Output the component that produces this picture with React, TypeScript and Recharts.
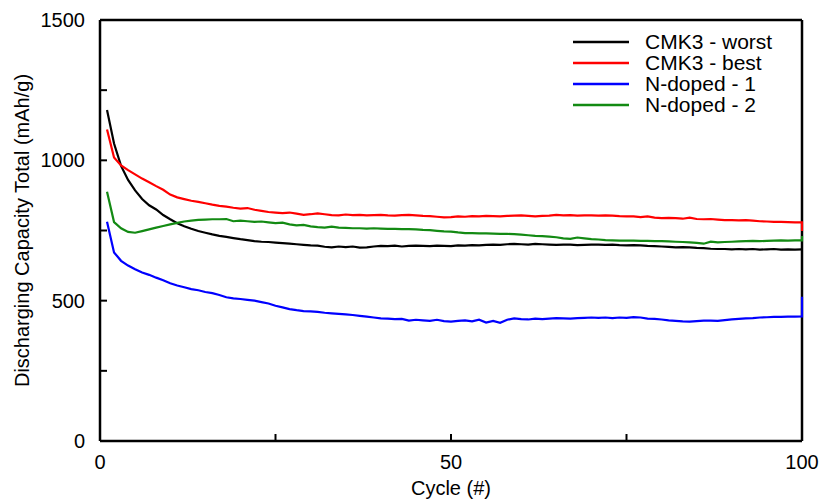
import React from 'react';
import { LineChart, Line, XAxis, YAxis, ReferenceLine, Legend } from 'recharts';

const FONT = '"Liberation Sans", Arial, Helvetica, sans-serif';

const cycles = [
  1, 2, 3, 4, 5, 6, 7, 8, 9, 10,
  11, 12, 13, 14, 15, 16, 17, 18, 19, 20,
  21, 22, 23, 24, 25, 26, 27, 28, 29, 30,
  31, 32, 33, 34, 35, 36, 37, 38, 39, 40,
  41, 42, 43, 44, 45, 46, 47, 48, 49, 50,
  51, 52, 53, 54, 55, 56, 57, 58, 59, 60,
  61, 62, 63, 64, 65, 66, 67, 68, 69, 70,
  71, 72, 73, 74, 75, 76, 77, 78, 79, 80,
  81, 82, 83, 84, 85, 86, 87, 88, 89, 90,
  91, 92, 93, 94, 95, 96, 97, 98, 99, 100,
  100,
];

const cmk3Worst = [
  1179, 1060, 980, 930, 893, 862, 840, 825, 805, 790,
  776, 765, 756, 748, 742, 736, 731, 727, 723, 719,
  716, 712, 710, 709, 707, 705, 703, 701, 699, 697,
  696, 692, 690, 693, 691, 693, 689, 690, 693, 695,
  694, 696, 693, 695, 696, 695, 694, 696, 695, 694,
  697, 696, 698, 697, 699, 700, 699, 701, 702, 701,
  700, 702, 701, 700, 699, 700, 700, 698, 699, 700,
  700, 699, 700, 698, 697, 698, 697, 695, 694, 693,
  692, 690, 691, 690, 688, 687, 685, 684, 684, 683,
  684, 683, 684, 682, 683, 684, 682, 683, 682, 683,
  683,
];

const cmk3Best = [
  1110, 1010, 982, 965, 950, 935, 922, 908, 895, 878,
  868, 862, 856, 852, 847, 842, 838, 835, 831, 828,
  830, 824, 820, 816, 814, 812, 814, 810, 806, 808,
  811, 808, 805, 804, 807, 805, 806, 804, 805, 806,
  804, 803, 805, 806, 804, 802, 801, 799, 797, 798,
  800, 799, 801, 800, 802, 801, 800, 802, 803, 804,
  802, 800, 802, 803, 806, 804, 805, 803, 804, 804,
  803, 804, 803, 801, 800, 800, 798, 800, 796, 794,
  795, 794, 792, 796, 791, 790, 791, 789, 787, 787,
  786, 787, 785, 783, 782, 781, 781, 780, 779, 779,
  748,
];

const nDoped1 = [
  781, 672, 642, 625, 612, 600, 592, 582, 573, 562,
  554, 548, 541, 537, 531, 527, 520, 512, 508, 506,
  503, 500, 495, 490, 482, 476, 470, 466, 463, 462,
  460, 457, 455, 453, 451, 449, 446, 443, 440, 437,
  436, 434, 435, 429, 432, 430, 428, 432, 427, 425,
  428, 430, 426, 432, 422, 428, 421, 432, 437, 434,
  433, 436, 434, 436, 438, 437, 436, 438, 439, 440,
  439, 440, 438, 440, 439, 441, 440, 436, 435, 433,
  430, 428, 426, 425, 427, 429, 429, 428, 431, 433,
  435, 437, 438, 440, 441, 442, 442, 443, 443, 444,
  514,
];

const nDoped2 = [
  888, 780, 758, 745, 742, 748, 754, 760, 766, 772,
  777, 782, 785, 788, 789, 790, 790, 791, 783, 785,
  783, 781, 782, 779, 776, 778, 772, 768, 770, 765,
  762, 760, 764, 760, 759, 758, 758, 757, 758, 757,
  756, 756, 755, 755, 754, 752, 751, 749, 747, 746,
  743, 741, 741, 740, 740, 739, 738, 738, 737, 735,
  733, 731, 730, 728, 726, 722, 720, 725, 722, 719,
  718, 716, 715, 714, 714, 714, 713, 713, 712, 712,
  711, 710, 709, 708, 706, 703, 710, 708, 709, 710,
  711, 712, 713, 712, 713, 714, 715, 714, 715, 715,
  730,
];

const xTicks = [0, 25, 50, 75, 100];
const yTicks = [0, 250, 500, 750, 1000, 1250, 1500];

const series = [
  { key: 'worst', name: 'CMK3 - worst', color: '#000000' },
  { key: 'best', name: 'CMK3 - best', color: '#ff0000' },
  { key: 'n1', name: 'N-doped - 1', color: '#0000ff' },
  { key: 'n2', name: 'N-doped - 2', color: '#138a13' },
];

const data = cycles.map((c, i) => ({
  cycle: c,
  worst: cmk3Worst[i],
  best: cmk3Best[i],
  n1: nDoped1[i],
  n2: nDoped2[i],
}));

const seriesOrder = series.map((s) => s.name);

const renderLegend = (props: any) => {
  const payload = [...(props.payload || [])].sort(
    (a: any, b: any) => seriesOrder.indexOf(a.value) - seriesOrder.indexOf(b.value)
  );
  return (
    <div style={{ fontFamily: FONT, fontSize: 21, color: '#000' }}>
      {payload.map((e: any) => (
        <div key={e.value} style={{ display: 'flex', alignItems: 'center', height: 21 }}>
          <svg width={56} height={4} style={{ display: 'block' }}>
            <line x1={0} y1={2} x2={56} y2={2} stroke={e.color} strokeWidth={2.5} />
          </svg>
          <span style={{ marginLeft: 16, lineHeight: '21px', whiteSpace: 'nowrap' }}>{e.value}</span>
        </div>
      ))}
    </div>
  );
};

const yLabel = (props: any) => {
  const vb = props.viewBox || { x: 0, y: 20, width: 100, height: 421 };
  const x = vb.x + 22;
  const y = vb.y + vb.height / 2;
  return (
    <text
      x={x}
      y={y}
      transform={`rotate(-90, ${x}, ${y})`}
      textAnchor="middle"
      dominantBaseline="central"
      fontSize={20}
      fontFamily={FONT}
      fill="#000"
    >
      Discharging Capacity Total (mAh/g)
    </text>
  );
};

const xLabel = (props: any) => {
  const vb = props.viewBox || { x: 100, y: 441, width: 702, height: 60 };
  const x = vb.x + vb.width / 2;
  const y = vb.y + 47;
  return (
    <text x={x} y={y} textAnchor="middle" dominantBaseline="central" fontSize={20} fontFamily={FONT} fill="#000">
      Cycle (#)
    </text>
  );
};

export default function App() {
  return (
    <div style={{ position: 'absolute', left: 0, top: 0 }}>
      <LineChart
        width={821}
        height={501}
        data={data}
        margin={{ top: 20, right: 19, left: 0, bottom: 0 }}
        style={{ fontFamily: FONT, background: '#fff' }}
      >
        <XAxis
          dataKey="cycle"
          type="number"
          domain={[0, 100]}
          ticks={xTicks}
          interval={0}
          tickFormatter={(v: number) => (v % 50 === 0 ? String(v) : '')}
          tickSize={-7}
          tickMargin={21}
          height={60}
          axisLine={{ stroke: '#000', strokeWidth: 2.5 }}
          tickLine={{ stroke: '#000', strokeWidth: 2 }}
          tick={{ fill: '#000', fontSize: 20, fontFamily: FONT }}
          label={xLabel}
        />
        <YAxis
          type="number"
          domain={[0, 1500]}
          ticks={yTicks}
          interval={0}
          tickFormatter={(v: number) => (v % 500 === 0 ? String(v) : '')}
          tickSize={-7}
          tickMargin={22}
          width={100}
          axisLine={{ stroke: '#000', strokeWidth: 2.5 }}
          tickLine={{ stroke: '#000', strokeWidth: 2 }}
          tick={{ fill: '#000', fontSize: 20, fontFamily: FONT }}
          label={yLabel}
        />
        <ReferenceLine y={1500} stroke="#000" strokeWidth={2.5} />
        <ReferenceLine x={100} stroke="#000" strokeWidth={2.5} />
        {series.map((s) => (
          <Line
            key={s.key}
            type="linear"
            dataKey={s.key}
            name={s.name}
            stroke={s.color}
            strokeWidth={2.2}
            dot={false}
            activeDot={false}
            isAnimationActive={false}
          />
        ))}
        <Legend
          layout="vertical"
          align="center"
          verticalAlign="middle"
          content={renderLegend}
          wrapperStyle={{ left: 573, top: 31, width: 245 }}
        />
      </LineChart>
    </div>
  );
}
